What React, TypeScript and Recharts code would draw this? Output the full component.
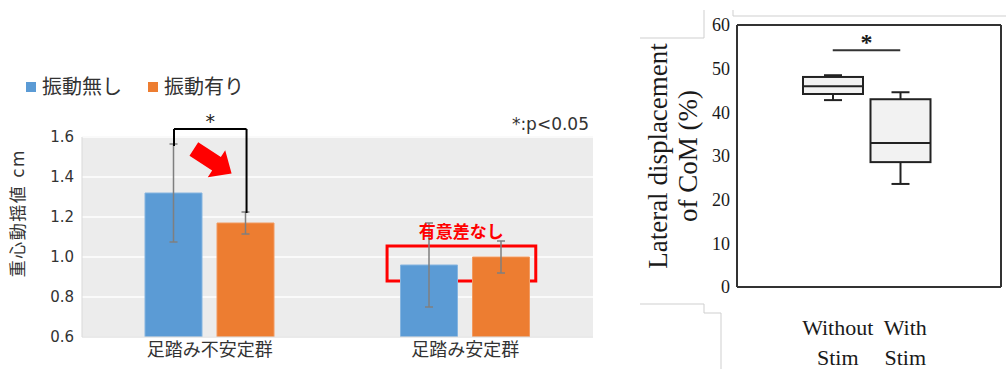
import React from 'react';
import {
  BarChart, ComposedChart, Bar, ErrorBar, XAxis, YAxis, CartesianGrid,
  ReferenceLine, ReferenceArea, ReferenceDot,
} from 'recharts';

// left chart: sway values per group
const groups = ['足踏み不安定群', '足踏み安定群'];
const seriesNames = ['振動無し', '振動有り'];
const withoutVib = [1.32, 0.96];
const withVib = [1.17, 1.0];
const withoutVibSd = [0.245, 0.21];
const withVibSd = [0.055, 0.08];
const swayTicks = [0.6, 0.8, 1.0, 1.2, 1.4, 1.6];

// right chart: box plot of lateral CoM displacement
const conditions = ['Without Stim', 'With Stim'];
const whiskerLow = [42.8, 23.6];
const quart1 = [44.2, 28.6];
const median = [46.0, 33.0];
const quart3 = [48.1, 43.0];
const whiskerHigh = [48.5, 44.6];
const comTicks = [0, 10, 20, 30, 40, 50, 60];

// annotation anchors: x as fraction of plot width (hidden 0..1 axis), y in data units
const bracketX = [0.18, 0.322];
const bracketTop = 1.64;
const bracketFoot = [1.555, 1.22];
const arrowAt = { x: 0.255, y: 1.48 };
const nsBox = { x1: 0.597, x2: 0.888, y1: 0.88, y2: 1.055 };
const nsText = { x: 0.742, y: 1.125 };
const pNoteAt = { x: 1, y: 1.665 };
const sigY = 54.2;

const jpFont = "'DejaVu Sans', 'Noto Sans CJK JP', sans-serif";
const serif = "'Liberation Serif', 'Times New Roman', serif";
const BLUE = '#5b9bd5';
const ORANGE = '#ed7d31';
const RED = '#ff0000';
const seriesColors = [BLUE, ORANGE];

const barData = groups.map((g, i) => ({
  group: g,
  noVib: withoutVib[i],
  vib: withVib[i],
  noVibSd: withoutVibSd[i],
  vibSd: withVibSd[i],
}));

const boxData = conditions.map((c, i) => ({
  cond: c,
  range: [whiskerLow[i], whiskerHigh[i]],
  q1: quart1[i],
  med: median[i],
  q3: quart3[i],
}));

const LegendRow = () => (
  <div style={{ display: 'flex', fontFamily: jpFont, fontSize: 20, color: '#333', lineHeight: '24px' }}>
    {seriesNames.map((n, i) => (
      <div key={n} style={{ display: 'flex', alignItems: 'center', marginRight: 26 }}>
        <span style={{ width: 10, height: 10, background: seriesColors[i], marginRight: 6, display: 'inline-block' }} />
        {n}
      </div>
    ))}
  </div>
);

const Arrow = ({ cx, cy }: any) => {
  const pts = [[-22, -8], [5, -8], [5, -16], [23, 0], [5, 16], [5, 8], [-22, 8]];
  return (
    <polygon
      points={pts.map((p) => p.join(',')).join(' ')}
      transform={`translate(${cx},${cy}) rotate(33)`}
      fill={RED}
    />
  );
};

const NsLabel = ({ cx, cy }: any) => (
  <text x={cx} y={cy} textAnchor="middle" dominantBaseline="central" fill={RED}
    fontFamily={jpFont} fontSize={17} fontWeight="bold">
    有意差なし
  </text>
);

const PNote = ({ cx, cy }: any) => (
  <text x={cx - 4} y={cy} textAnchor="end" dominantBaseline="central" fill="#333"
    fontFamily={jpFont} fontSize={17}>*:p&lt;0.05</text>
);

const SwayLabel = (p: any) => {
  const vb = p.viewBox;
  return (
    <text transform={`translate(${vb.x + 18},${vb.y + vb.height / 2 - 24}) rotate(-90)`}
      textAnchor="middle" dominantBaseline="central" fill="#333" fontFamily={jpFont} fontSize={17}
      letterSpacing={1.5}>
      重心動揺値 cm
    </text>
  );
};

const BoxShape = (props: any) => {
  const { x, y, width, height, payload } = props;
  const [lo, hi] = payload.range;
  const top = Math.min(y, y + height);
  const bottom = Math.max(y, y + height);
  const py = (v: number) => bottom - ((v - lo) / (hi - lo)) * (bottom - top);
  const cx = x + width / 2;
  const cap = 9;
  return (
    <g stroke="#222" strokeWidth={2}>
      <line x1={cx} x2={cx} y1={py(hi)} y2={py(payload.q3)} />
      <line x1={cx} x2={cx} y1={py(payload.q1)} y2={py(lo)} />
      <line x1={cx - cap} x2={cx + cap} y1={py(hi)} y2={py(hi)} />
      <line x1={cx - cap} x2={cx + cap} y1={py(lo)} y2={py(lo)} />
      <rect x={x} y={py(payload.q3)} width={width} height={py(payload.q1) - py(payload.q3)} fill="#f2f2f2" />
      <line x1={x} x2={x + width} y1={py(payload.med)} y2={py(payload.med)} />
    </g>
  );
};

const CondTick = ({ x, y, payload }: any) => {
  const [l1, l2] = String(payload.value).split(' ');
  return (
    <text x={x + 5} y={y} textAnchor="middle" fontFamily={serif} fontSize={22} fill="#1a1a1a">
      <tspan x={x + 5} dy={40}>{l1}</tspan>
      <tspan x={x + 5} dy={30}>{l2}</tspan>
    </text>
  );
};

const ComLabel = (p: any) => {
  const vb = p.viewBox;
  const cy = vb.y + vb.height / 2;
  return (
    <g fontFamily={serif} fontSize={27} fill="#1a1a1a" textAnchor="middle">
      <text transform={`translate(${vb.x + 37},${cy}) rotate(-90)`}>Lateral displacement</text>
      <text transform={`translate(${vb.x + 67},${cy}) rotate(-90)`}>of CoM (%)</text>
    </g>
  );
};

export default function App() {
  return (
    <div style={{ position: 'absolute', left: 0, top: 0, width: 1006, height: 369, background: '#fff', overflow: 'hidden' }}>
      <div style={{ position: 'absolute', left: 0, top: 0 }}>
        <BarChart width={620} height={369} data={barData} barSize={57} barGap={15}
          margin={{ top: 137, right: 27, bottom: 2, left: 0 }}>
          <CartesianGrid vertical={false} fill="#ececec" stroke="#fafafa" strokeWidth={2} />
          <XAxis dataKey="group" tickLine={false} axisLine={{ stroke: '#d9d9d9' }} tickMargin={0}
            tick={{ fontFamily: jpFont, fontSize: 18, fill: '#333' }} interval={0} />
          <XAxis xAxisId="ann" type="number" domain={[0, 1]} hide allowDataOverflow />
          <YAxis domain={[0.6, 1.6]} ticks={swayTicks} width={82} tickLine={false} allowDataOverflow
            axisLine={{ stroke: '#d9d9d9' }} tickFormatter={(v: number) => v.toFixed(1)}
            tick={{ fontFamily: jpFont, fontSize: 15, fill: '#333' }} label={{ content: SwayLabel }} />
          <Bar dataKey="noVib" name={seriesNames[0]} fill={BLUE} stroke="#86b5e0" isAnimationActive={false}>
            <ErrorBar dataKey="noVibSd" width={4} stroke="#7f7f7f" strokeWidth={1.5} isAnimationActive={false} />
          </Bar>
          <Bar dataKey="vib" name={seriesNames[1]} fill={ORANGE} stroke="#f29a60" isAnimationActive={false}>
            <ErrorBar dataKey="vibSd" width={4} stroke="#7f7f7f" strokeWidth={1.5} isAnimationActive={false} />
          </Bar>
          <ReferenceLine xAxisId="ann" ifOverflow="visible" stroke="#000" strokeWidth={2}
            segment={[{ x: bracketX[0], y: bracketTop }, { x: bracketX[1], y: bracketTop }]}
            label={{ value: '*', position: 'top', offset: 1, fontFamily: jpFont, fontSize: 19, fill: '#222' }} />
          <ReferenceLine xAxisId="ann" ifOverflow="visible" stroke="#000" strokeWidth={2}
            segment={[{ x: bracketX[0], y: bracketTop }, { x: bracketX[0], y: bracketFoot[0] }]} />
          <ReferenceLine xAxisId="ann" ifOverflow="visible" stroke="#000" strokeWidth={2}
            segment={[{ x: bracketX[1], y: bracketTop }, { x: bracketX[1], y: bracketFoot[1] }]} />
          <ReferenceDot xAxisId="ann" x={arrowAt.x} y={arrowAt.y} ifOverflow="visible" shape={Arrow} />
          <ReferenceArea xAxisId="ann" x1={nsBox.x1} x2={nsBox.x2} y1={nsBox.y1} y2={nsBox.y2}
            fill="none" fillOpacity={0} stroke={RED} strokeWidth={3} ifOverflow="visible" />
          <ReferenceDot xAxisId="ann" x={nsText.x} y={nsText.y} ifOverflow="visible" shape={NsLabel} />
          <ReferenceDot xAxisId="ann" x={pNoteAt.x} y={pNoteAt.y} ifOverflow="visible" shape={PNote} />
        </BarChart>
      </div>
      <div style={{ position: 'absolute', left: 26, top: 75 }}>
        <LegendRow />
      </div>

      <div style={{ position: 'absolute', left: 630, top: 0 }}>
        <ComposedChart width={376} height={369} data={boxData}
          margin={{ top: 25, right: 5, bottom: 12, left: 0 }}>
          <CartesianGrid stroke="#333" strokeWidth={2}
            horizontalCoordinatesGenerator={({ offset }: any) => [offset.top, offset.top + offset.height]}
            verticalCoordinatesGenerator={({ offset }: any) => [offset.left, offset.left + offset.width]} />
          <XAxis dataKey="cond" height={70} padding={{ left: 62, right: 67 }} tickLine={false}
            axisLine={false} tick={<CondTick />} interval={0} />
          <YAxis domain={[0, 60]} ticks={comTicks} width={107} tickLine={false} axisLine={false}
            tickMargin={1} allowDataOverflow
            tick={{ fontFamily: serif, fontSize: 18, fill: '#1a1a1a' }} label={{ content: ComLabel }} />
          <Bar dataKey="range" barSize={60} shape={BoxShape} isAnimationActive={false} />
          <ReferenceLine stroke="#333" strokeWidth={2}
            segment={[{ x: conditions[0], y: sigY }, { x: conditions[1], y: sigY }]}
            label={{ value: '*', position: 'top', offset: 0, fontFamily: serif, fontSize: 24, fontWeight: 'bold', fill: '#1a1a1a' }} />
        </ComposedChart>
      </div>

      {/* faint frame edges from the source screenshot */}
      <svg width={1006} height={369} style={{ position: 'absolute', left: 0, top: 0, pointerEvents: 'none' }}>
        <g fill="none" stroke="#cfcfcf" strokeWidth={1}>
          <polyline points="733,10 733,16 1006,16" />
          <polyline points="704,10 704,38 640,38" />
          <polyline points="640,304 704,304 704,313 721,313 721,369" />
        </g>
      </svg>
    </div>
  );
}
